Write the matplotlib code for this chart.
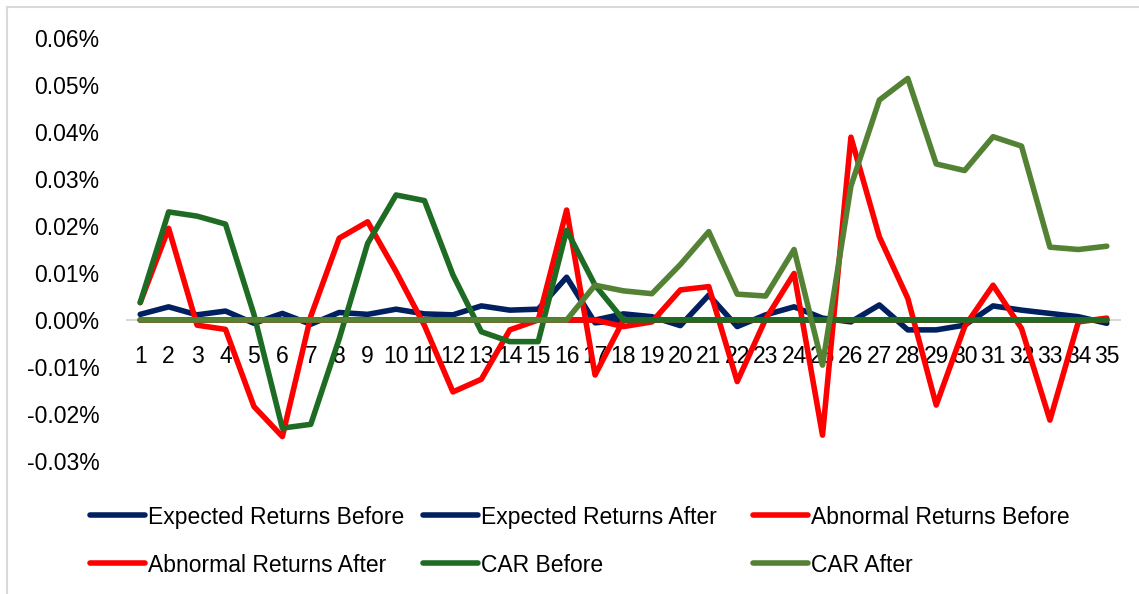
import matplotlib.pyplot as plt
from matplotlib.lines import Line2D
import matplotlib.ticker as mticker

plt.rcParams["font.family"] = ["Liberation Sans", "DejaVu Sans"]
plt.rcParams["font.size"] = 16.5

# event days and daily series, all values in percent
days = list(range(1, 36))

expected_before = [0.0012, 0.0028, 0.0011, 0.0019, -0.0007, 0.0014, -0.0009, 0.0016, 0.0012,
                   0.0023, 0.0013, 0.0011, 0.0030, 0.0021, 0.0023, 0.0091, -0.0006, 0,
                   0, 0, 0, 0, 0, 0, 0, 0, 0, 0, 0, 0, 0, 0, 0, 0, 0]
expected_after = [0, 0, 0, 0, 0, 0, 0, 0, 0, 0, 0, 0, 0, 0, 0, 0, 0, 0.0013,
                  0.0007, -0.0012, 0.0053, -0.0014, 0.0011, 0.0028, 0.0004, -0.0004, 0.0032,
                  -0.0021, -0.0021, -0.0011, 0.0030, 0.0021, 0.0014, 0.0007, -0.0007]
abnormal_before = [0.0037, 0.0195, -0.0011, -0.0020, -0.0184, -0.0248, 0.0008, 0.0174, 0.0209,
                   0.0103, -0.0012, -0.0153, -0.0126, -0.0021, 0.0000, 0.0234, -0.0117, 0,
                   0, 0, 0, 0, 0, 0, 0, 0, 0, 0, 0, 0, 0, 0, 0, 0, 0]
abnormal_after = [0, 0, 0, 0, 0, 0, 0, 0, 0, 0, 0, 0, 0, 0, 0, 0, 0, -0.0014,
                  -0.0004, 0.0064, 0.0071, -0.0131, 0.0002, 0.0099, -0.0245, 0.0389, 0.0177,
                  0.0046, -0.0181, -0.0014, 0.0074, -0.0018, -0.0213, -0.0004, 0.0004]
car_before = [0.0037, 0.0230, 0.0221, 0.0204, 0.0012, -0.0230, -0.0222, -0.0040, 0.0163,
              0.0266, 0.0254, 0.0096, -0.0025, -0.0046, -0.0046, 0.0191, 0.0074, 0,
              0, 0, 0, 0, 0, 0, 0, 0, 0, 0, 0, 0, 0, 0, 0, 0, 0]
car_after = [0, 0, 0, 0, 0, 0, 0, 0, 0, 0, 0, 0, 0, 0, 0, 0, 0.0074, 0.0062,
             0.0056, 0.0118, 0.0188, 0.0055, 0.0051, 0.0150, -0.0096, 0.0285, 0.0468,
             0.0514, 0.0332, 0.0318, 0.0390, 0.0370, 0.0155, 0.0150, 0.0157]

y_ticks = [-0.03, -0.02, -0.01, 0.0, 0.01, 0.02, 0.03, 0.04, 0.05, 0.06]

series = [
    ("Expected Returns Before", expected_before, "#002060"),
    ("Expected Returns After", expected_after, "#002060"),
    ("Abnormal Returns Before", abnormal_before, "#FF0000"),
    ("Abnormal Returns After", abnormal_after, "#FF0000"),
    ("CAR Before", car_before, "#1E6B24"),
    ("CAR After", car_after, "#548235"),
]

W, H = 1139, 594
fig = plt.figure(figsize=(W / 100, H / 100), dpi=100)
ax = fig.add_axes([126 / W, 1 - 461 / H, (1121 - 126) / W, (461 - 38) / H])

ax.axhline(0, color="#d9d9d9", lw=1.5, zorder=1)
# lines sit above the day labels, as in the spreadsheet chart
for name, vals, color in series:
    ax.plot(days, vals, color=color, lw=4, solid_capstyle="round",
            solid_joinstyle="round", zorder=3)

ax.set_xlim(0.5, 35.5)
ax.set_ylim(-0.03, 0.06)
ax.set_yticks(y_ticks)
ax.yaxis.set_major_formatter(mticker.FuncFormatter(lambda v, p: f"{v:.2f}%"))
ax.set_xticks(days)
ax.set_xticklabels([str(d) for d in days])
ax.spines["bottom"].set_position(("data", 0))
for s in ax.spines.values():
    s.set_visible(False)
ax.tick_params(axis="y", length=0, pad=19)
ax.tick_params(axis="x", length=0, pad=18)

# legend laid out on a 3x2 grid below the plot
col_x = [90, 423, 753]
row_y = [515, 563]
for i, (name, vals, color) in enumerate(series):
    x0 = col_x[i % 3]
    y0 = row_y[i // 3]
    fig.add_artist(Line2D([x0 / W, (x0 + 55) / W], [1 - y0 / H, 1 - y0 / H],
                          transform=fig.transFigure, color=color, lw=4,
                          solid_capstyle="round"))
    fig.text((x0 + 58) / W, 1 - y0 / H, name, ha="left", va="center_baseline")

# chart frame, only the left and top edges fall inside the image
fig.add_artist(Line2D([7 / W, 7 / W], [0, 1 - 7 / H], transform=fig.transFigure,
                      color="#d9d9d9", lw=1.5))
fig.add_artist(Line2D([7 / W, 1], [1 - 7 / H, 1 - 7 / H], transform=fig.transFigure,
                      color="#d9d9d9", lw=1.5))

fig.savefig("out.png", dpi=100)
